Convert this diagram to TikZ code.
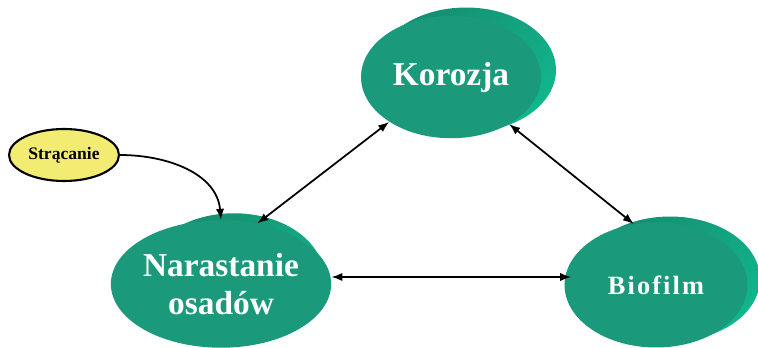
\documentclass[tikz,border=0pt]{standalone}
\usepackage{fontspec}
\setmainfont{Liberation Serif}
\newfontfamily\spacedserif[LetterSpace=8]{Liberation Serif}
\usetikzlibrary{arrows.meta,positioning,shapes.geometric,calc}
\definecolor{osadfront}{HTML}{1A9A7B}
\definecolor{osadback}{HTML}{10B68C}
\definecolor{osadtop}{HTML}{168C70}
\definecolor{stryellow}{HTML}{F2EC72}
\tikzset{
  blob/.style={ellipse, fill=osadfront, minimum width=3.6cm, minimum height=2.5cm, inner sep=0pt, align=center, text=white, font=\bfseries\fontsize{19}{21.5}\selectfont},
  blobback/.style={ellipse, top color=osadtop, bottom color=osadback, shading angle=45, minimum width=3.6cm, minimum height=2.5cm, inner sep=0pt},
  smallblob/.style={ellipse, draw=black, line width=1.2pt, fill=stryellow, minimum width=2.2cm, minimum height=1.04cm, inner sep=0pt, font=\bfseries\fontsize{10}{12}\selectfont},
  biarrow/.style={{Latex[length=2.2mm]}-{Latex[length=2.2mm]}, line width=1pt},
  arrow/.style={-{Latex[length=2.2mm]}, line width=1pt}
}
\begin{document}
\begin{tikzpicture}[x=0.02cm, y=-0.02cm]
  \useasboundingbox (0,0) rectangle (758,348);
  \node[blobback] (korback) at (466,70) {};
  \node[blobback, minimum height=2.55cm] (narback) at (234,277) {};
  \node[blobback] (bioback) at (670,279) {};

  \node[blob, minimum height=2.45cm] (kor) at (451,77) {Korozja};
  \node[blob, minimum height=2.55cm, minimum width=3.6cm] (nar) at (221,284) {Narastanie\\osadów};
  \node[blob, minimum width=3.66cm] (bio) at (656,285) {\spacedserif\bfseries\fontsize{15}{18}\selectfont Biofilm};
  \node[smallblob] (strac) at (64,155) {Strącanie};

  \draw[biarrow] (nar.59) -- (kor.216);
  \draw[biarrow] (kor.321) -- (bio.110);
  \draw[biarrow] ([xshift=4]narback.east) -- ([xshift=4]narback.east -| bio.west);
  \draw[arrow] (strac.east) to[out=0, in=95] (nar.north);
\end{tikzpicture}
\end{document}
